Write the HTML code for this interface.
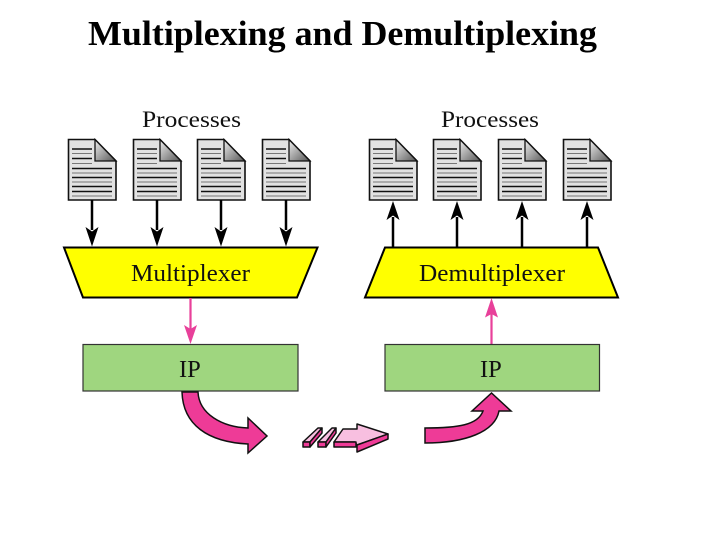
<!DOCTYPE html>
<html>
<head>
<meta charset="utf-8">
<style>
html,body{margin:0;padding:0;background:#fff;width:720px;height:540px;overflow:hidden}
svg{display:block}
text{font-family:"Liberation Serif",serif;fill:#111}
</style>
</head>
<body>
<svg width="720" height="540" viewBox="0 0 720 540" xmlns="http://www.w3.org/2000/svg">
<defs>
<linearGradient id="fold" x1="0" y1="0" x2="1" y2="1">
<stop offset="0" stop-color="#f0f0f0"/><stop offset="1" stop-color="#555"/>
</linearGradient>
<g id="doc">
<path d="M0.5 0.5H27L48 22V61H0.5Z" fill="#e2e2e2" stroke="#111" stroke-width="1.600"/>
<path d="M27 0.5L48 22H27Z" fill="url(#fold)" stroke="#111" stroke-width="1.300"/>
<g fill="none">
<path d="M4 10H24M4 19.500H24M4 29.500H44M4 38.500H44M4 47.500H44M4 52.500H44" stroke="#111" stroke-width="1.400"/>
<path d="M4 14.500H24M4 24.500H24M4 34H44M4 43H44M4 57H44" stroke="#777" stroke-width="1"/>
</g>
</g>
<g id="down">
<path d="M0 0V30" stroke="#000" stroke-width="2.500" fill="none"/>
<path d="M-6.500 27L0 31.500L6.500 27L0 46.500Z" fill="#000"/>
</g>
<g id="up">
<path d="M0 46V16" stroke="#000" stroke-width="2.500" fill="none"/>
<path d="M-6.500 19L0 14.500L6.500 19L0 0Z" fill="#000"/>
</g>
</defs>

<text x="88" y="45" font-size="35" font-weight="700" textLength="509" lengthAdjust="spacingAndGlyphs" style="fill:#000">Multiplexing and Demultiplexing</text>

<text x="142" y="127" font-size="23" textLength="99" lengthAdjust="spacingAndGlyphs">Processes</text>
<text x="441" y="127" font-size="23" textLength="98" lengthAdjust="spacingAndGlyphs">Processes</text>

<use href="#doc" x="68" y="139"/>
<use href="#doc" x="133" y="139"/>
<use href="#doc" x="197" y="139"/>
<use href="#doc" x="262" y="139"/>
<use href="#doc" x="369" y="139"/>
<use href="#doc" x="433" y="139"/>
<use href="#doc" x="498" y="139"/>
<use href="#doc" x="563" y="139"/>

<use href="#down" x="92" y="200"/>
<use href="#down" x="157" y="200"/>
<use href="#down" x="221" y="200"/>
<use href="#down" x="286" y="200"/>
<use href="#up" x="393" y="201"/>
<use href="#up" x="457" y="201"/>
<use href="#up" x="522" y="201"/>
<use href="#up" x="587" y="201"/>

<path d="M64 247.500H317.500L297 297.500H83Z" fill="#ffff00" stroke="#000" stroke-width="2"/>
<path d="M385 247.500H598L618 297.500H365Z" fill="#ffff00" stroke="#000" stroke-width="2"/>
<text x="131" y="281" font-size="24" textLength="119" lengthAdjust="spacingAndGlyphs">Multiplexer</text>
<text x="419" y="281" font-size="24" textLength="146" lengthAdjust="spacingAndGlyphs">Demultiplexer</text>

<path d="M190.500 298V330" stroke="#e8409a" stroke-width="2.200" fill="none"/>
<path d="M184 325L190.500 329L197 325L190.500 344Z" fill="#e8409a"/>
<path d="M491.500 344V312" stroke="#e8409a" stroke-width="2.200" fill="none"/>
<path d="M485 317.500L491.500 314L498 317.500L491.500 298Z" fill="#e8409a"/>

<rect x="83" y="344.500" width="215" height="46.500" fill="#9fd67f" stroke="#333" stroke-width="1.200"/>
<rect x="385" y="344.500" width="214.500" height="46.500" fill="#9fd67f" stroke="#333" stroke-width="1.200"/>
<text x="179" y="377" font-size="24.500">IP</text>
<text x="480" y="377" font-size="24.500">IP</text>

<path d="M182 392H198C199 414 222 427 248 428V418L267 436L248 453V444C208 442 183 425 182 392Z" fill="#ee3b97" stroke="#111" stroke-width="1.500"/>
<path d="M425 428C458 428 478 425 483 411H472L491.500 393L511 411H499C495 432 465 443 425 443Z" fill="#ee3b97" stroke="#111" stroke-width="1.500"/>

<g stroke="#111" stroke-width="1.500" stroke-linejoin="round">
<path d="M303 442L318 428H322L310 442Z" fill="#f8bfe0"/>
<path d="M303 442H310V447H303Z" fill="#ee3b97"/>
<path d="M310 442L322 428V433L310 447Z" fill="#ee3b97"/>
<path d="M318 442L332 428H336L326 442Z" fill="#f8bfe0"/>
<path d="M318 442H326V447H318Z" fill="#ee3b97"/>
<path d="M326 442L336 428V433L326 447Z" fill="#ee3b97"/>
<path d="M334 442L343 429H357V424L388 434L357 445L355 442Z" fill="#f8bfe0"/>
<path d="M334 442H356V447H334Z" fill="#ee3b97"/>
<path d="M357 445V452L388 439V434Z" fill="#ee3b97"/>
</g>
</svg>
</body>
</html>
